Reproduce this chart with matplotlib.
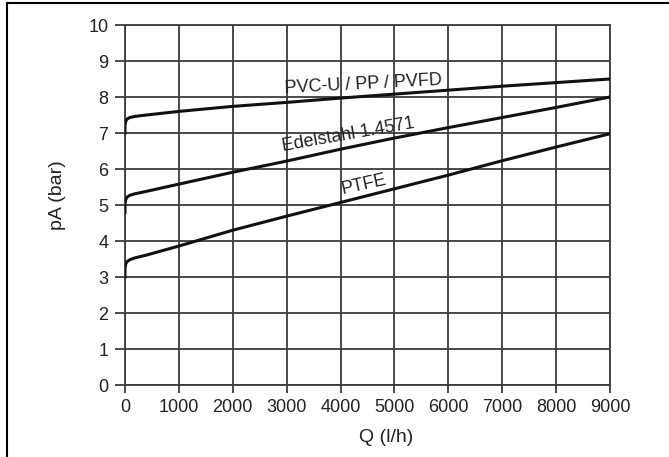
import matplotlib
matplotlib.use("Agg")
import matplotlib.pyplot as plt
from matplotlib.lines import Line2D

plt.rcParams['font.family'] = ['Liberation Sans', 'DejaVu Sans']

# flow rate Q (l/h) and pressure pA (bar)
q = [0, 0, 15, 40, 90, 180, 400, 1000, 2000, 3000, 4000, 5000, 6000, 7000, 8000, 9000]
p_pvc = [7.0, 7.22, 7.33, 7.39, 7.43, 7.46, 7.5, 7.6, 7.74, 7.85, 7.97, 8.08, 8.19, 8.3, 8.4, 8.5]
p_edelstahl = [4.8, 5.05, 5.16, 5.22, 5.27, 5.31, 5.38, 5.58, 5.91, 6.22, 6.55, 6.86, 7.15, 7.43, 7.71, 8.0]
p_ptfe = [3.0, 3.25, 3.37, 3.43, 3.48, 3.53, 3.61, 3.86, 4.3, 4.69, 5.07, 5.45, 5.83, 6.23, 6.61, 6.98]

labels = ['PVC-U / PP / PVFD', 'Edelstahl 1.4571', 'PTFE']
label_pos = [(4420, 8.36), (4150, 6.96), (4435, 5.56)]
label_rot = [3.0, 10.0, 12.5]

x_ticks = list(range(0, 9001, 1000))
y_ticks = list(range(0, 11))

grid_c = '#3c3c3c'

fig = plt.figure(figsize=(6.69, 4.57), dpi=100)
ax = fig.add_axes([125 / 669, 72 / 457, 485 / 669, 360 / 457])

for p in (p_pvc, p_edelstahl, p_ptfe):
    ax.plot(q, p, color='#111111', lw=2.2, solid_joinstyle='round', zorder=3)

for txt, (x, y), r in zip(labels, label_pos, label_rot):
    ax.text(x, y, txt, rotation=r, ha='center', va='center', fontsize=13,
            color='#222222', rotation_mode='anchor', zorder=4)

ax.set_xlim(0, 9000)
ax.set_ylim(0, 10)
ax.set_xticks(x_ticks)
ax.set_yticks(y_ticks)
ax.grid(True, color=grid_c, lw=1.3)
ax.set_axisbelow(True)
for s in ax.spines.values():
    s.set_color(grid_c)
    s.set_linewidth(1.3)
ax.tick_params(axis='both', colors=grid_c, width=1.3, labelsize=13,
               labelcolor='#222222')
ax.tick_params(axis='x', length=6, pad=4)
ax.tick_params(axis='y', length=7, pad=5)

fig.text(58 / 669, 1 - 195 / 457, 'pA (bar)', rotation=90, ha='center',
         va='center', fontsize=14, color='#222222')
fig.text(386 / 669, 1 - 437 / 457, 'Q (l/h)', ha='center', va='center',
         fontsize=14, color='#222222')

# frame lines at the left and top of the picture
fig.add_artist(Line2D([7 / 669, 7 / 669], [0, 1 - 3 / 457], color='black', lw=1.5,
                      transform=fig.transFigure))
fig.add_artist(Line2D([7 / 669, 1], [1 - 3 / 457, 1 - 3 / 457], color='black', lw=1.5,
                      transform=fig.transFigure))

fig.savefig('out.png', dpi=100)
